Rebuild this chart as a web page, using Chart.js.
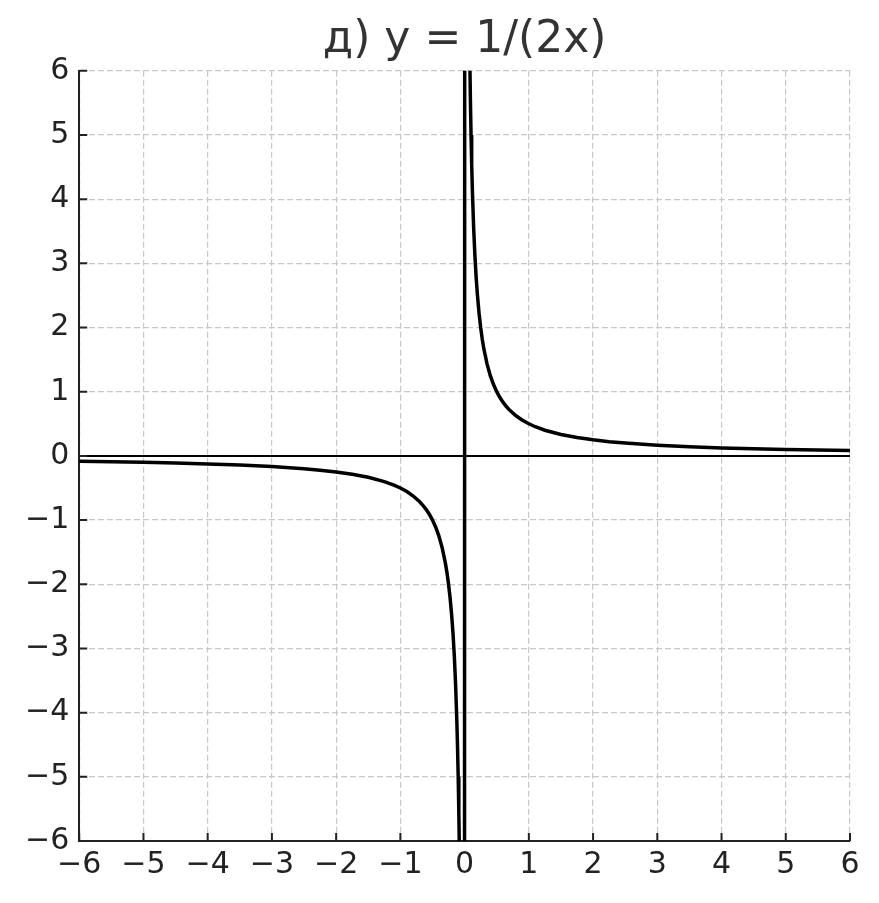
<!DOCTYPE html>
<html>
<head>
<meta charset="utf-8">
<script src="https://cdn.jsdelivr.net/npm/chart.js@4/dist/chart.umd.min.js"></script>
<style>
  html, body { margin: 0; padding: 0; background: #fff; }
  #cadre { width: 879px; height: 903px; position: relative; }
</style>
</head>
<body>
<div id="cadre"><canvas id="graphique"></canvas></div>
<script>
// titre du graphique
const titre = 'д) y = 1/(2x)';

// points (branche négative puis positive)
const valeursX = [
  -6, -5.5, -5, -4.5, -4, -3.5, -3, -2.5, -2.25, -2, -1.75, -1.5, -1.25, -1.1, -1,
  -0.9, -0.8, -0.7, -0.65, -0.6, -0.55, -0.5, -0.45, -0.4, -0.35, -0.3, -0.275,
  -0.25, -0.225, -0.2, -0.18, -0.16, -0.14, -0.12, -0.11, -0.1, -0.09, -0.08, -0.01,
  0.01, 0.08, 0.09, 0.1, 0.11, 0.12, 0.14, 0.16, 0.18, 0.2, 0.225, 0.25, 0.275, 0.3,
  0.35, 0.4, 0.45, 0.5, 0.55, 0.6, 0.65, 0.7, 0.8, 0.9, 1, 1.1, 1.25, 1.5, 1.75, 2,
  2.25, 2.5, 3, 3.5, 4, 4.5, 5, 5.5, 6
];
const valeursY = [
  -0.0833, -0.0909, -0.1, -0.1111, -0.125, -0.1429, -0.1667, -0.2, -0.2222, -0.25,
  -0.2857, -0.3333, -0.4, -0.4545, -0.5, -0.5556, -0.625, -0.7143, -0.7692, -0.8333,
  -0.9091, -1, -1.1111, -1.25, -1.4286, -1.6667, -1.8182, -2, -2.2222, -2.5, -2.7778,
  -3.125, -3.5714, -4.1667, -4.5455, -5, -5.5556, -6.25, -50,
  50, 6.25, 5.5556, 5, 4.5455, 4.1667, 3.5714, 3.125, 2.7778, 2.5, 2.2222, 2,
  1.8182, 1.6667, 1.4286, 1.25, 1.1111, 1, 0.9091, 0.8333, 0.7692, 0.7143, 0.625,
  0.5556, 0.5, 0.4545, 0.4, 0.3333, 0.2857, 0.25, 0.2222, 0.2, 0.1667, 0.1429,
  0.125, 0.1111, 0.1, 0.0909, 0.0833
];

// graduations des deux axes
const graduations = [-6, -5, -4, -3, -2, -1, 0, 1, 2, 3, 4, 5, 6];

const points = valeursX.map((x, i) => ({ x: x, y: valeursY[i] }));

// axes passant par zéro + petites graduations tournées vers l'intérieur
const pluginAxes = {
  id: 'axesZero',
  beforeDatasetsDraw(chart) {
    const { ctx, chartArea, scales } = chart;
    const x0 = scales.x.getPixelForValue(0);
    const y0 = scales.y.getPixelForValue(0);
    ctx.save();
    ctx.strokeStyle = '#000';
    ctx.lineWidth = 2;
    ctx.beginPath();
    ctx.moveTo(chartArea.left, y0);
    ctx.lineTo(chartArea.right, y0);
    ctx.moveTo(x0, chartArea.top);
    ctx.lineTo(x0, chartArea.bottom);
    ctx.stroke();

    ctx.strokeStyle = '#222';
    ctx.lineWidth = 2;
    ctx.beginPath();
    scales.x.ticks.forEach((t) => {
      const px = scales.x.getPixelForValue(t.value);
      ctx.moveTo(px, chartArea.bottom);
      ctx.lineTo(px, chartArea.bottom - 8);
    });
    scales.y.ticks.forEach((t) => {
      const py = scales.y.getPixelForValue(t.value);
      ctx.moveTo(chartArea.left, py);
      ctx.lineTo(chartArea.left + 8, py);
    });
    ctx.stroke();
    ctx.restore();
  },
};

const formatTick = (v) => (v < 0 ? '\u2212' + Math.abs(v) : String(v));

const axe = (bas) => ({
  type: 'linear',
  min: -6,
  max: 6,
  afterBuildTicks: (scale) => {
    scale.ticks = graduations.map((v) => ({ value: v }));
  },
  ticks: {
    callback: formatTick,
    color: '#222',
    font: { family: 'DejaVu Sans', size: 30 },
    padding: bas ? 6 : 10,
    maxRotation: 0,
    autoSkip: false,
  },
  grid: {
    color: '#c8c8c8',
    lineWidth: 1.2,
    drawTicks: false,
  },
  border: {
    display: true,
    color: '#222',
    width: 2,
    dash: [6, 3],
  },
});

Chart.defaults.font.family = 'DejaVu Sans';

new Chart(document.getElementById('graphique'), {
  type: 'line',
  data: {
    datasets: [
      {
        data: points,
        borderColor: '#000',
        borderWidth: 3.5,
        pointRadius: 0,
        tension: 0,
        fill: false,
        clip: 0,
      },
    ],
  },
  options: {
    responsive: true,
    maintainAspectRatio: false,
    animation: false,
    devicePixelRatio: 1,
    layout: { padding: { left: 15, right: 29, top: 4, bottom: 14 } },
    plugins: {
      legend: { display: false },
      tooltip: { enabled: false },
      title: {
        display: true,
        fullSize: false,
        text: titre,
        color: '#333',
        font: { family: 'DejaVu Sans', size: 44, weight: 'normal' },
        padding: { top: 10, bottom: 4 },
      },
    },
    scales: {
      x: axe(true),
      y: axe(false),
    },
  },
  plugins: [pluginAxes],
});
</script>
</body>
</html>
